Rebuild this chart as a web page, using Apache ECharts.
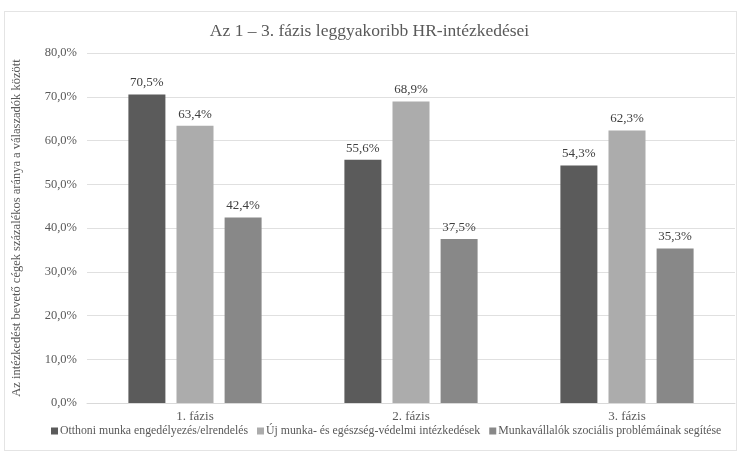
<!DOCTYPE html>
<html>
<head>
<meta charset="utf-8">
<script src="https://cdn.jsdelivr.net/npm/echarts@6/dist/echarts.min.js"></script>
<style>
html,body{margin:0;padding:0;background:#fff;}
#wrap{position:absolute;left:4px;top:11px;width:733px;height:440px;border:1px solid #e4e4e4;box-sizing:border-box;}
#chart{position:absolute;left:0;top:0;width:739px;height:454px;}
</style>
</head>
<body>
<div id="wrap"></div>
<div id="chart"></div>
<script>
const categories = ['1. fázis', '2. fázis', '3. fázis'];
const seriesNames = [
  'Otthoni munka engedélyezés/elrendelés',
  'Új munka- és egészség-védelmi intézkedések',
  'Munkavállalók szociális problémáinak segítése'
];
const otthoni = [70.5, 55.6, 54.3];
const ujMunka = [63.4, 68.9, 62.3];
const szocialis = [42.4, 37.5, 35.3];
const colors = ['#5b5b5b', '#acacac', '#888888'];

const font = 'Liberation Serif, Times New Roman, serif';
const fmt = v => v.toFixed(1).replace('.', ',') + '%';

const chart = echarts.init(document.getElementById('chart'));
const mk = (name, data, color) => ({
  name, type: 'bar', data, barWidth: 37, barGap: '30%',
  itemStyle: { color },
  label: {
    show: true, position: 'top', distance: 5,
    fontFamily: font, fontSize: 13, color: '#404040',
    formatter: p => fmt(p.value)
  }
});
chart.setOption({
  animation: false,
  title: {
    text: 'Az 1 – 3. fázis leggyakoribb HR-intézkedései',
    left: 'center', top: 17,
    textStyle: { fontFamily: font, fontSize: 17.5, fontWeight: 'normal', color: '#595959' }
  },
  legend: {
    bottom: 12, left: 46,
    itemWidth: 7, itemHeight: 7, itemGap: 9,
    icon: 'rect',
    textStyle: { fontFamily: font, fontSize: 11.8, color: '#595959', padding: [0, 0, 0, -3] },
    data: seriesNames
  },
  grid: { left: 87, right: 4, top: 53, bottom: 51, containLabel: false },
  xAxis: {
    type: 'category', data: categories,
    axisLine: { lineStyle: { color: '#d9d9d9' } },
    axisTick: { show: false },
    axisLabel: { fontFamily: font, fontSize: 13, color: '#595959', margin: 7 }
  },
  yAxis: {
    type: 'value', min: 0, max: 80, interval: 10,
    name: 'Az intézkedést bevető cégek százalékos aránya a válaszadók között',
    nameLocation: 'middle', nameGap: 64, nameRotate: 90,
    nameTextStyle: { fontFamily: font, fontSize: 12.5, color: '#595959' },
    axisLine: { show: false }, axisTick: { show: false },
    splitLine: { lineStyle: { color: '#e0e0e0' } },
    axisLabel: { fontFamily: font, fontSize: 12.5, color: '#595959', margin: 10, formatter: v => fmt(v) }
  },
  series: [
    mk(seriesNames[0], otthoni, colors[0]),
    mk(seriesNames[1], ujMunka, colors[1]),
    mk(seriesNames[2], szocialis, colors[2])
  ]
});
</script>
</body>
</html>
